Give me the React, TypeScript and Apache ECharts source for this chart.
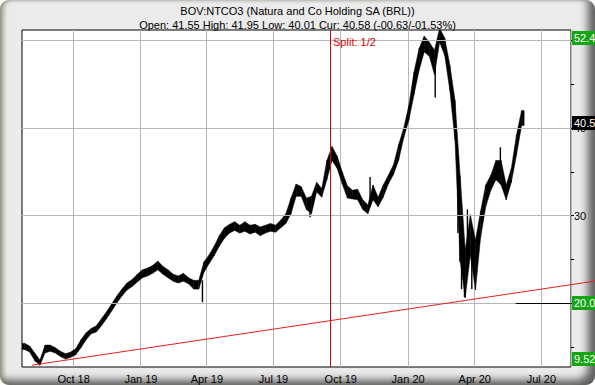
import React, { useEffect, useRef } from 'react';
import * as echarts from 'echarts';

const TITLE = 'BOV:NTCO3 (Natura and Co Holding SA (BRL))';
const SUBTITLE = 'Open: 41.55 High: 41.95 Low: 40.01 Cur: 40.58 (-00.63/-01.53%)';

// x axis: one category per calendar day
const AXIS_START = '2018-07-23';
const AXIS_DAYS = 750;
const MONTHS = ['Jan', 'Feb', 'Mar', 'Apr', 'May', 'Jun', 'Jul', 'Aug', 'Sep', 'Oct', 'Nov', 'Dec'];
const QUARTER_MONTHS = [0, 3, 6, 9];

// price band read at the middle of each week (week i starts FIRST_WEEK + 7*i days)
const FIRST_WEEK = '2018-07-23';
const bandLows = [
  14.7, 14.4, 13.4, 12.9, 14.3, 14.5, 14.3, 13.9, 13.6, 13.8,
  14.1, 14.9, 15.8, 16.5, 16.7, 17.4, 18.2, 19.1, 20.0, 20.8,
  21.5, 21.9, 22.4, 22.9, 23.1, 23.4, 23.8, 23.3, 22.9, 22.5,
  22.3, 22.5, 22.2, 21.6, 21.6, 23.5, 24.5, 25.4, 26.5, 27.4,
  28.0, 28.3, 28.0, 28.2, 27.9, 28.1, 27.7, 28.0, 28.2, 28.1,
  28.6, 29.1, 30.2, 32.2, 32.2, 30.7, 30.2, 32.7, 32.1, 34.1,
  36.3, 35.4, 33.6, 32.0, 31.9, 31.8, 30.7, 30.2, 31.8, 31.0,
  32.1, 33.6, 34.7, 36.3, 38.9, 40.9, 43.8, 46.6, 48.7, 48.2,
  46.1, 49.8, 48.3, 44.3, 38.6, 24.9, 20.6, 25.5, 21.5, 27.5,
  31.0, 32.9, 34.1, 33.5, 31.8, 33.8, 36.9, 40.3,
];
const bandHighs = [
  15.4, 15.1, 14.3, 13.5, 15.2, 15.2, 14.9, 14.5, 14.2, 14.4,
  14.8, 15.8, 16.6, 17.1, 17.4, 18.2, 19.0, 19.9, 20.8, 21.6,
  22.3, 22.7, 23.3, 23.8, 24.0, 24.3, 24.8, 24.2, 23.8, 23.3,
  23.1, 23.4, 22.9, 22.6, 22.6, 24.7, 25.5, 26.5, 27.7, 28.6,
  29.0, 29.3, 28.9, 29.3, 28.9, 29.0, 28.7, 28.9, 29.1, 28.9,
  29.5, 30.2, 32.0, 33.6, 33.3, 32.0, 32.2, 33.8, 33.1, 36.3,
  37.9, 36.8, 35.0, 33.4, 32.9, 33.0, 31.8, 31.2, 33.5, 32.1,
  33.5, 34.6, 35.8, 38.1, 40.0, 42.6, 46.4, 49.1, 50.5, 49.8,
  48.9, 51.4, 50.3, 47.2, 43.2, 34.6, 26.1, 30.1, 27.2, 30.5,
  33.5, 34.6, 36.3, 36.3, 33.5, 35.4, 39.2, 42.0,
];

// single-day bars that stand out of the band
const spikeDates = [
  '2019-03-26', '2019-08-20', '2019-11-10', '2020-02-07', '2020-03-09', '2020-03-12',
  '2020-03-14', '2020-03-18', '2020-03-22', '2020-03-28', '2020-05-06',
];
const spikeLows = [20.1, 29.8, 31.0, 43.5, 28.0, 24.7, 21.6, 20.7, 26.5, 21.6, 34.0];
const spikeHighs = [22.6, 31.5, 34.4, 48.5, 36.0, 28.4, 26.5, 25.3, 30.7, 27.6, 37.8];

// y axis
const Y_MIN = 12.7;
const Y_MAX = 51.2;
const yLabelValues = [30, 40];
const yTickValues = [15, 20, 25, 30, 35, 40, 45, 50];
const yGridValues = [20, 30, 40, 50];

// annotations
const trendStart = { date: '2018-08-05', value: 12.9 };
const trendEnd = { date: '2020-08-10', value: 22.1 };
const splitDate = '2019-09-17';
const splitText = 'Split: 1/2';
const splitTextValue = 49.8;
const targetStartDate = '2020-05-27';
const targetValue = 20.0;
const GREEN = '#14a514';
const priceMarkers = [
  { value: 52.4, text: '52.4', bg: GREEN },
  { value: 40.58, text: '40.5', bg: '#000000' },
  { value: 20.0, text: '20.0', bg: GREEN },
  { value: 9.52, text: '9.52', bg: GREEN },
];

const DAY = 86400000;
const startMs = Date.parse(AXIS_START + 'T00:00:00Z');
const dateStr = (ms: number) => new Date(ms).toISOString().slice(0, 10);
const dayIndex = (d: string) => Math.round((Date.parse(d + 'T00:00:00Z') - startMs) / DAY);
const categories = Array.from({ length: AXIS_DAYS }, (_, i) => dateStr(startMs + i * DAY));
const isQuarterStart = (v: string) => {
  const m = Number(v.slice(5, 7)) - 1;
  return v.slice(8, 10) === '01' && QUARTER_MONTHS.includes(m);
};
const fmtLabel = (v: string) => `${MONTHS[Number(v.slice(5, 7)) - 1]} ${v.slice(2, 4)}`;

const RED = '#e02020';
const FONT = 'Liberation Sans';

export default function App() {
  const ref = useRef<HTMLDivElement>(null);
  useEffect(() => {
    document.body.style.margin = '0';
    const chart = echarts.init(ref.current!, null, { renderer: 'svg' });
    const firstWeekIdx = dayIndex(FIRST_WEEK);
    const bandData = bandLows.map((lo, i) => [firstWeekIdx + 7 * i + 3, lo, bandHighs[i]]);
    const spikeData = spikeDates.map((d, i) => [dayIndex(d), spikeLows[i], spikeHighs[i]]);
    const lastDate = categories[categories.length - 1];
    const clampV = (v: number) => Math.min(Math.max(v, Y_MIN + 0.9), Y_MAX - 0.9);
    const n = bandData.length;

    const option: any = {
      animation: false,
      backgroundColor: 'transparent',
      textStyle: { fontFamily: FONT },
      title: {
        text: TITLE,
        subtext: SUBTITLE,
        left: 'center',
        top: 4,
        padding: 0,
        itemGap: 1,
        textStyle: { fontSize: 11, fontWeight: 'normal', color: '#000', fontFamily: FONT, lineHeight: 13 },
        subtextStyle: { fontSize: 11, color: '#000', fontFamily: FONT, lineHeight: 13 },
      },
      grid: {
        left: 22, right: 24, top: 30, bottom: 18,
        show: true, backgroundColor: '#ffffff', borderColor: '#000000', borderWidth: 1,
        outerBoundsMode: 'none',
      },
      xAxis: {
        type: 'category',
        data: categories,
        boundaryGap: true,
        axisLine: { show: false },
        axisTick: { show: false },
        axisLabel: {
          interval: (_i: number, v: string) => isQuarterStart(v),
          formatter: fmtLabel,
          color: '#000', fontSize: 11, margin: 6, fontFamily: FONT,
        },
        splitLine: {
          show: true,
          interval: (_i: number, v: string) => isQuarterStart(v),
          lineStyle: { color: '#b8b8b8', width: 1 },
        },
      },
      yAxis: {
        type: 'value',
        position: 'right',
        min: Y_MIN,
        max: Y_MAX,
        axisLine: { show: false },
        splitLine: { show: false },
        axisTick: { show: true, customValues: yTickValues, length: 3, lineStyle: { color: '#000' } },
        axisLabel: { customValues: yLabelValues, color: '#000', fontSize: 11, margin: 3, fontFamily: FONT },
      },
      series: [
        {
          type: 'line', data: [], z: 1, silent: true,
          markLine: {
            silent: true, symbol: ['none', 'none'], animation: false,
            label: { show: false },
            lineStyle: { color: '#b8b8b8', width: 1, type: 'solid' },
            data: yGridValues.map((v) => ({ yAxis: v })),
          },
        },
        {
          type: 'custom', z: 2, clip: true, silent: true,
          data: bandData,
          encode: { x: 0, y: [1, 2] },
          renderItem: (params: any, api: any) => {
            const i = params.dataIndex;
            const bw = api.size([1, 0])[0];
            const x0 = api.value(0);
            const lo0 = api.value(1);
            const hi0 = api.value(2);
            const children: any[] = [];
            const style = { fill: '#000000', stroke: '#000000', lineWidth: 0.5 };
            const top = api.coord([x0, hi0]);
            const bot = api.coord([x0, lo0]);
            if (i < n - 1) {
              const nx = bandData[i + 1];
              const p2 = api.coord([nx[0], nx[2]]);
              const p3 = api.coord([nx[0], nx[1]]);
              children.push({ type: 'polygon', shape: { points: [top, p2, p3, bot] }, style });
            }
            if (i === 0) {
              children.push({ type: 'rect', shape: { x: top[0] - 3.5 * bw, y: top[1], width: 3.5 * bw, height: bot[1] - top[1] }, style });
            }
            if (i === n - 1) {
              children.push({ type: 'rect', shape: { x: top[0], y: top[1], width: 3.5 * bw, height: bot[1] - top[1] }, style });
            }
            return { type: 'group', children };
          },
        },
        {
          type: 'custom', z: 2, clip: true, silent: true,
          data: spikeData,
          encode: { x: 0, y: [1, 2] },
          renderItem: (_p: any, api: any) => {
            const d = api.value(0);
            const a = api.coord([d, api.value(1)]);
            const b = api.coord([d, api.value(2)]);
            return { type: 'line', shape: { x1: a[0], y1: a[1], x2: b[0], y2: b[1] }, style: { stroke: '#000', lineWidth: 1.4 } };
          },
        },
        {
          type: 'line', data: [], z: 3, silent: true,
          markLine: {
            silent: true, symbol: ['none', 'none'], animation: false,
            data: [
              [
                { coord: [trendStart.date, trendStart.value], lineStyle: { color: RED, width: 1, type: 'solid' }, label: { show: false } },
                { coord: [trendEnd.date, trendEnd.value] },
              ],
              { xAxis: splitDate, lineStyle: { color: '#dd0000', width: 1, type: 'solid' }, label: { show: false } },
              [
                { coord: [targetStartDate, targetValue], lineStyle: { color: '#000', width: 1, type: 'solid' }, label: { show: false } },
                { coord: [lastDate, targetValue] },
              ],
              ...priceMarkers.map((m) => ({
                yAxis: clampV(m.value),
                lineStyle: { color: 'rgba(0,0,0,0)', width: 0, type: 'solid' },
                label: {
                  show: true, position: 'end', distance: 1, formatter: m.text,
                  color: '#ffffff', backgroundColor: m.bg, fontSize: 11, fontFamily: FONT,
                  padding: [1, 4, 1, 2], lineHeight: 12,
                },
              })),
            ],
          },
          markPoint: {
            silent: true, animation: false,
            symbol: 'circle', symbolSize: 1,
            itemStyle: { color: 'rgba(0,0,0,0)' },
            data: [{
              coord: [splitDate, splitTextValue],
              label: { show: true, position: 'right', distance: 2, formatter: splitText, color: '#dd0000', fontSize: 11, fontFamily: FONT },
            }],
          },
        },
      ],
    };
    chart.setOption(option);

    const a = chart.convertToPixel({ gridIndex: 0 }, [dayIndex(trendStart.date), trendStart.value]) as number[];
    const b = chart.convertToPixel({ gridIndex: 0 }, [dayIndex(trendEnd.date), trendEnd.value]) as number[];
    if (a && b) {
      const slope = (b[1] - a[1]) / (b[0] - a[0]);
      const w = chart.getWidth();
      chart.setOption({
        graphic: [{
          type: 'line', silent: true, z: 10,
          shape: { x1: b[0], y1: b[1], x2: w, y2: b[1] + slope * (w - b[0]) },
          style: { stroke: RED, lineWidth: 1 },
        }],
      });
    }
    return () => chart.dispose();
  }, []);

  return (
    <div
      style={{
        width: 595, height: 385, position: 'relative', overflow: 'hidden',
        background: '#ebebeb', borderRadius: 9,
        boxShadow: 'inset 5px 0 5px -2px rgba(110,110,85,0.75), inset 0 3px 3px -2px rgba(120,120,100,0.35), inset -10px -8px 9px -3px rgba(0,0,0,0.6)',
      }}
    >
      <div ref={ref} style={{ width: 595, height: 385 }} />
    </div>
  );
}
